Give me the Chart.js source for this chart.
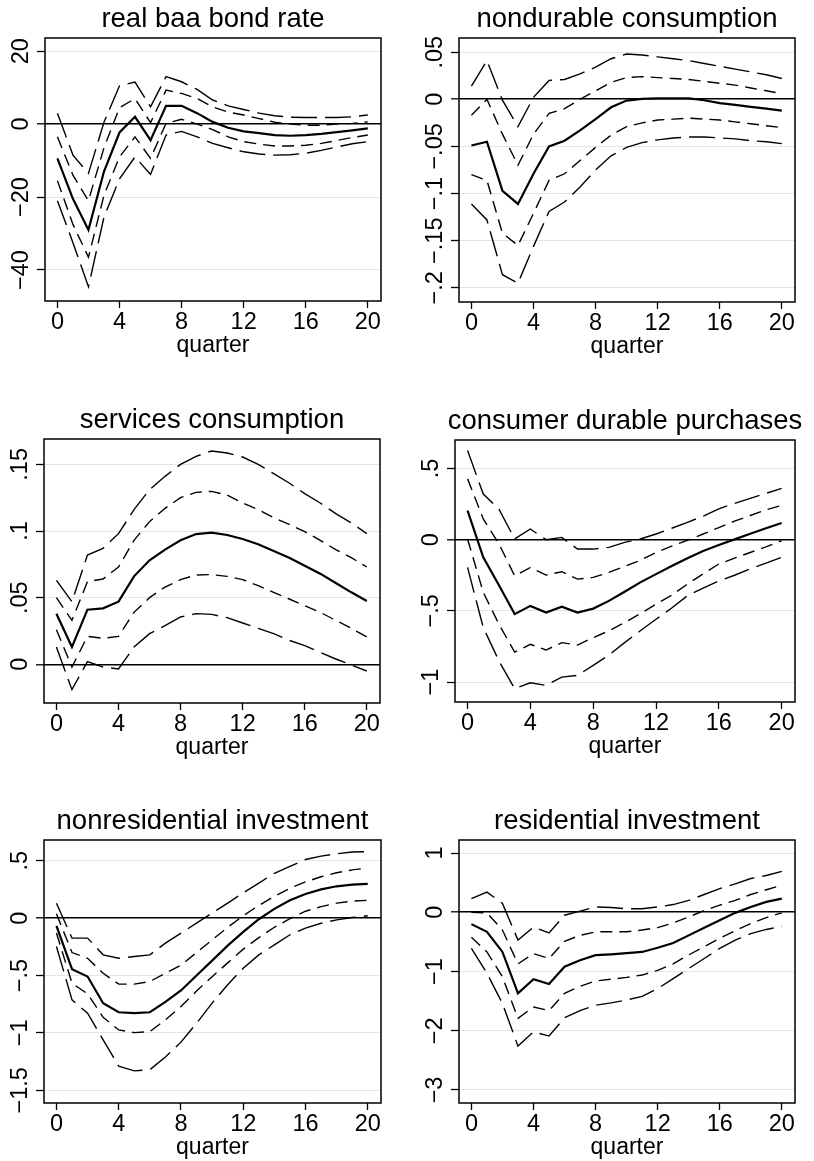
<!DOCTYPE html>
<html>
<head>
<meta charset="utf-8">
<script src="https://cdn.jsdelivr.net/npm/chart.js@4.4.1/dist/chart.umd.min.js"></script>
<style>
body{margin:0;background:#fff;}
#wrap{position:relative;width:814px;height:1161px;overflow:hidden;background:#fff;}
#wrap canvas{position:absolute;}
</style>
</head>
<body>
<div id="wrap"></div>
<script>
// impulse responses, quarters 0..20
const quarters = [0,1,2,3,4,5,6,7,8,9,10,11,12,13,14,15,16,17,18,19,20];
const xTicks = [0,4,8,12,16,20];
const xTickLabels = ["0","4","8","12","16","20"];

// real baa bond rate
const baaEst     = [-9.4,-20.5,-29,-13,-2.3,2,-4.4,5,5,3,0.6,-1,-2,-2.5,-3,-3.2,-3,-2.7,-2.2,-1.7,-1.2];
const baaInnerHi = [-3.5,-14,-21,-6.5,4.5,7,0.4,9.3,8.4,7,4.7,3.3,2.5,1.5,0.5,0,-0.3,-0.3,0,0.2,0.6];
const baaInnerLo = [-15.5,-27.5,-36.5,-19.5,-9,-3.5,-9.4,0.2,1.3,0,-1.5,-3.5,-4.8,-5.5,-6,-6,-5.8,-5.3,-4.5,-3.7,-3];
const baaOuterHi = [3,-8.5,-13.5,0.5,10.5,11.5,4.7,13,11.6,9.5,6.6,5,4,3,2.3,1.9,1.8,1.8,1.8,2,2.5];
const baaOuterLo = [-21,-32.5,-44.6,-25.5,-15,-9,-13.8,-3,-2,-3.5,-5.3,-6.5,-7.6,-8.2,-8.5,-8.4,-8,-7.2,-6.3,-5.4,-4.8];
const baaTicks = [-40,-20,0,20];
const baaTickLabels = ["\u221240","\u221220","0","20"];

// nondurable consumption
const ndEst     = [-0.049,-0.045,-0.097,-0.111,-0.079,-0.050,-0.044,-0.033,-0.021,-0.0085,-0.0014,0.0005,0.001,0.001,0.001,-0.001,-0.004,-0.006,-0.008,-0.010,-0.012];
const ndInnerHi = [-0.017,0.0,-0.037,-0.070,-0.037,-0.015,-0.010,0.0,0.009,0.018,0.023,0.024,0.023,0.022,0.021,0.019,0.017,0.015,0.012,0.009,0.006];
const ndInnerLo = [-0.080,-0.086,-0.142,-0.155,-0.121,-0.086,-0.079,-0.065,-0.051,-0.038,-0.029,-0.025,-0.022,-0.021,-0.020,-0.021,-0.022,-0.024,-0.026,-0.028,-0.030];
const ndOuterHi = [0.014,0.041,-0.001,-0.029,0.002,0.020,0.021,0.027,0.034,0.043,0.048,0.047,0.045,0.043,0.041,0.038,0.035,0.032,0.029,0.026,0.022];
const ndOuterLo = [-0.111,-0.128,-0.186,-0.195,-0.156,-0.119,-0.109,-0.093,-0.075,-0.060,-0.051,-0.046,-0.043,-0.041,-0.040,-0.040,-0.041,-0.042,-0.044,-0.045,-0.047];
const ndTicks = [-0.2,-0.15,-0.1,-0.05,0,0.05];
const ndTickLabels = ["\u2212.2","\u2212.15","\u2212.1","\u2212.05","0",".05"];

// services consumption
const svEst     = [0.038,0.013,0.041,0.042,0.047,0.066,0.078,0.086,0.093,0.0977,0.0988,0.097,0.094,0.090,0.085,0.080,0.074,0.068,0.061,0.054,0.0475];
const svInnerHi = [0.050,0.033,0.062,0.064,0.073,0.093,0.107,0.117,0.125,0.129,0.1297,0.127,0.121,0.116,0.110,0.105,0.0995,0.093,0.086,0.080,0.073];
const svInnerLo = [0.026,-0.002,0.021,0.0195,0.021,0.039,0.050,0.058,0.0635,0.067,0.0673,0.066,0.0635,0.059,0.054,0.049,0.044,0.039,0.033,0.027,0.0205];
const svOuterHi = [0.063,0.047,0.082,0.087,0.098,0.116,0.131,0.141,0.150,0.156,0.160,0.1585,0.1555,0.150,0.143,0.136,0.128,0.121,0.113,0.106,0.098];
const svOuterLo = [0.013,-0.019,0.002,-0.002,-0.0035,0.013,0.023,0.029,0.0355,0.038,0.0375,0.035,0.031,0.027,0.023,0.018,0.014,0.009,0.004,-0.0005,-0.005];
const svTicks = [0,0.05,0.1,0.15];
const svTickLabels = ["0",".05",".1",".15"];

// consumer durable purchases
const cdEst     = [0.204,-0.124,-0.32,-0.523,-0.465,-0.512,-0.47,-0.512,-0.484,-0.43,-0.366,-0.30,-0.242,-0.185,-0.13,-0.08,-0.037,0.002,0.042,0.08,0.117];
const cdInnerHi = [0.427,0.146,-0.03,-0.254,-0.195,-0.249,-0.225,-0.277,-0.265,-0.23,-0.188,-0.145,-0.09,-0.045,-0.005,0.04,0.085,0.13,0.17,0.21,0.24];
const cdInnerLo = [0.005,-0.37,-0.594,-0.79,-0.735,-0.775,-0.723,-0.74,-0.688,-0.64,-0.582,-0.52,-0.453,-0.39,-0.312,-0.24,-0.171,-0.13,-0.09,-0.05,-0.007];
const cdOuterHi = [0.627,0.32,0.215,0.005,0.075,0.0,0.016,-0.066,-0.066,-0.054,-0.019,0.005,0.04,0.08,0.122,0.165,0.216,0.255,0.29,0.325,0.36];
const cdOuterLo = [-0.195,-0.617,-0.852,-1.047,-1.005,-1.023,-0.965,-0.953,-0.883,-0.81,-0.723,-0.64,-0.559,-0.48,-0.394,-0.34,-0.29,-0.25,-0.205,-0.165,-0.124];
const cdTicks = [-1,-0.5,0,0.5];
const cdTickLabels = ["\u22121","\u2212.5","0",".5"];

// nonresidential investment
const niEst     = [-0.067,-0.445,-0.509,-0.741,-0.82,-0.828,-0.82,-0.73,-0.63,-0.5,-0.37,-0.24,-0.12,-0.01,0.08,0.155,0.21,0.25,0.277,0.292,0.298];
const niInnerHi = [0.038,-0.30,-0.35,-0.48,-0.575,-0.575,-0.552,-0.48,-0.41,-0.30,-0.19,-0.08,0.02,0.11,0.19,0.26,0.315,0.36,0.395,0.42,0.435];
const niInnerLo = [-0.13,-0.567,-0.66,-0.864,-0.974,-0.997,-0.988,-0.886,-0.77,-0.635,-0.51,-0.39,-0.27,-0.17,-0.08,-0.005,0.06,0.1,0.13,0.148,0.155];
const niOuterHi = [0.13,-0.174,-0.174,-0.32,-0.35,-0.334,-0.32,-0.218,-0.131,-0.044,0.044,0.13,0.22,0.305,0.39,0.45,0.51,0.54,0.56,0.575,0.578];
const niOuterLo = [-0.247,-0.712,-0.828,-1.06,-1.29,-1.33,-1.32,-1.21,-1.08,-0.916,-0.74,-0.58,-0.436,-0.32,-0.233,-0.145,-0.087,-0.045,-0.015,0.005,0.02];
const niTicks = [-1.5,-1,-0.5,0,0.5];
const niTickLabels = ["\u22121.5","\u22121","\u2212.5","0",".5"];

// residential investment
const riEst     = [-0.2,-0.33,-0.67,-1.37,-1.13,-1.21,-0.92,-0.81,-0.725,-0.71,-0.69,-0.67,-0.60,-0.52,-0.39,-0.26,-0.135,-0.01,0.09,0.175,0.23];
const riInnerHi = [0.0,-0.01,-0.30,-0.87,-0.70,-0.78,-0.49,-0.39,-0.33,-0.33,-0.33,-0.30,-0.26,-0.18,-0.08,0.03,0.12,0.2,0.3,0.38,0.455];
const riInnerLo = [-0.42,-0.67,-1.09,-1.79,-1.6,-1.66,-1.37,-1.25,-1.16,-1.13,-1.10,-1.06,-0.98,-0.87,-0.72,-0.58,-0.44,-0.31,-0.19,-0.09,-0.01];
const riOuterHi = [0.23,0.34,0.15,-0.47,-0.25,-0.35,-0.05,0.02,0.09,0.08,0.06,0.06,0.09,0.13,0.2,0.3,0.4,0.48,0.57,0.62,0.69];
const riOuterLo = [-0.61,-1.03,-1.54,-2.26,-2.02,-2.09,-1.78,-1.66,-1.57,-1.53,-1.48,-1.42,-1.29,-1.12,-0.95,-0.78,-0.61,-0.47,-0.36,-0.29,-0.24];
const riTicks = [-3,-2,-1,0,1];
const riTickLabels = ["\u22123","\u22122","\u22121","0","1"];

const FONT = "'Liberation Sans', Arial, Helvetica, sans-serif";

// panels: data refs + where the plot box sits on the page
const panels = [
{title:"real baa bond rate", est:baaEst, ih:baaInnerHi, il:baaInnerLo, oh:baaOuterHi, ol:baaOuterLo,
 yMin:-48.5, yMax:23.6, ticks:baaTicks, labels:baaTickLabels, col:0, row:0, box:[45,38,381,301]},
{title:"nondurable consumption", est:ndEst, ih:ndInnerHi, il:ndInnerLo, oh:ndOuterHi, ol:ndOuterLo,
 yMin:-0.215, yMax:0.065, ticks:ndTicks, labels:ndTickLabels, col:407, row:0, box:[459,38,795,302]},
{title:"services consumption", est:svEst, ih:svInnerHi, il:svInnerLo, oh:svOuterHi, ol:svOuterLo,
 yMin:-0.029, yMax:0.169, ticks:svTicks, labels:svTickLabels, col:0, row:400, box:[44,439,380,703]},
{title:"consumer durable purchases", est:cdEst, ih:cdInnerHi, il:cdInnerLo, oh:cdOuterHi, ol:cdOuterLo,
 yMin:-1.14, yMax:0.70, ticks:cdTicks, labels:cdTickLabels, col:407, row:400, box:[455,440,795,702]},
{title:"nonresidential investment", est:niEst, ih:niInnerHi, il:niInnerLo, oh:niOuterHi, ol:niOuterLo,
 yMin:-1.61, yMax:0.68, ticks:niTicks, labels:niTickLabels, col:0, row:800, box:[44,840,381,1103]},
{title:"residential investment", est:riEst, ih:riInnerHi, il:riInnerLo, oh:riOuterHi, ol:riOuterLo,
 yMin:-3.22, yMax:1.22, ticks:riTicks, labels:riTickLabels, col:407, row:800, box:[459,840,795,1103]}
];

const X_AXIS_H = 58;
const LONG_DASH = [26,8];
const SHORT_DASH = [12,7];

function pts(arr){
return quarters.map((q,i)=>({x:q, y:arr[i]}));
}

function line(arr, dash, w){
return {data:pts(arr), borderColor:"#000", borderWidth:w, borderDash:dash, pointRadius:0, tension:0, fill:false};
}

function makePanel(p){
const wrap = document.getElementById("wrap");
const [L,T,R,B] = p.box;
const w = 407;
const h = B + X_AXIS_H - p.row;
const cv = document.createElement("canvas");
cv.width = w; cv.height = h;
cv.style.left = p.col+"px"; cv.style.top = p.row+"px";
cv.style.width = w+"px"; cv.style.height = h+"px";
wrap.appendChild(cv);

// title, rotated y labels and the frame
const deco = {
id:"deco",
afterDraw(chart){
const ctx = chart.ctx;
const a = chart.chartArea;
const s = chart.scales.y;
ctx.save();
ctx.fillStyle = "#000";
ctx.font = "27.5px "+FONT;
ctx.textAlign = "center";
ctx.textBaseline = "alphabetic";
ctx.fillText(p.title, (a.left+a.right)/2, a.top-11);

ctx.font = "23.5px "+FONT;
s.ticks.forEach((t,i)=>{
const y = s.getPixelForValue(t.value);
ctx.save();
ctx.translate(a.left-17, y);
ctx.rotate(-Math.PI/2);
ctx.fillText(p.labels[i], 0, 0);
ctx.restore();
});

ctx.strokeStyle = "#000";
ctx.lineWidth = 1.5;
ctx.strokeRect(a.left, a.top, a.right-a.left, a.bottom-a.top);
ctx.restore();
}
};

new Chart(cv,{
type:"line",
data:{
datasets:[
line(p.oh, LONG_DASH, 1.4),
line(p.ol, LONG_DASH, 1.4),
line(p.ih, SHORT_DASH, 1.4),
line(p.il, SHORT_DASH, 1.4),
line(p.est, [], 2.2)
]
},
options:{
responsive:false,
animation:false,
devicePixelRatio:1,
layout:{padding:{left:0, top:T-p.row, right:p.col+w-R, bottom:0}},
plugins:{legend:{display:false}, tooltip:{enabled:false}},
scales:{
x:{
type:"linear", min:-0.8, max:20.85,
afterBuildTicks:s=>{ s.ticks = xTicks.map(v=>({value:v})); },
afterFit:s=>{ s.height = X_AXIS_H; },
ticks:{color:"#000", font:{size:23.5, family:FONT}, padding:0, maxRotation:0,
 callback:(v)=>xTickLabels[xTicks.indexOf(v)]},
grid:{drawOnChartArea:false, drawTicks:true, tickLength:7, tickColor:"#000", tickWidth:1.3},
border:{display:false},
title:{display:true, text:"quarter", color:"#000", font:{size:23, family:FONT}, padding:{top:0,bottom:0}}
},
y:{
type:"linear", min:p.yMin, max:p.yMax,
afterBuildTicks:s=>{ s.ticks = p.ticks.map(v=>({value:v})); },
afterFit:s=>{ s.width = L - p.col; },
ticks:{display:false},
grid:{
color:c=>(c.tick && Math.abs(c.tick.value)<1e-9) ? "#000" : "#e4e4e4",
lineWidth:c=>(c.tick && Math.abs(c.tick.value)<1e-9) ? 1.6 : 1,
drawTicks:true, tickLength:8, tickColor:"#000", tickWidth:1.3
},
border:{display:false}
}
}
},
plugins:[deco]
});
}

panels.forEach(makePanel);
</script>
</body>
</html>
